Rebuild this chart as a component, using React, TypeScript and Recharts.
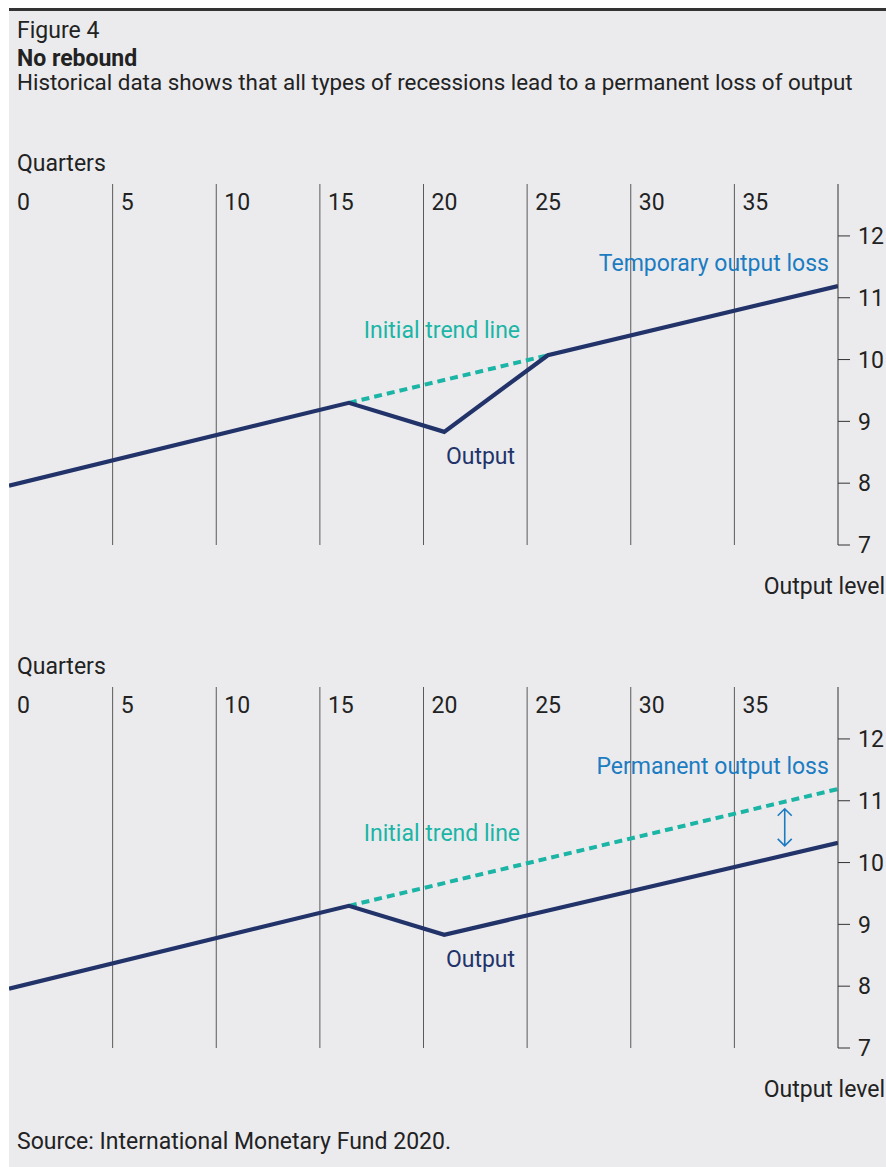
import { LineChart, Line, XAxis, YAxis, ReferenceLine, ReferenceDot } from "recharts";

document.body.style.margin = "0";

// ── Data ─────────────────────────────────────────────────────────────

const QUARTER_TICKS = [0, 5, 10, 15, 20, 25, 30, 35];
const GRID_QUARTERS = [5, 10, 15, 20, 25, 30, 35];
const LEVEL_TICKS = [7, 8, 9, 10, 11, 12];
const LEVEL_DOMAIN = [7, 12.84];

// panel 1: temporary loss
const OUTPUT_TEMP = [
  { q: 0, v: 7.96 },
  { q: 16.4, v: 9.3 },
  { q: 21, v: 8.83 },
  { q: 26, v: 10.07 },
  { q: 40, v: 11.19 },
];
const TREND_TEMP = [
  { q: 16.4, v: 9.3 },
  { q: 26, v: 10.07 },
];

// panel 2: permanent loss
const OUTPUT_PERM = [
  { q: 0, v: 7.96 },
  { q: 16.4, v: 9.3 },
  { q: 21, v: 8.83 },
  { q: 40, v: 10.32 },
];
const TREND_PERM = [
  { q: 16.4, v: 9.3 },
  { q: 40, v: 11.19 },
];
const PERM_GAP = { q: 37.43, from: 10.27, to: 10.87 };

// ── Styles ───────────────────────────────────────────────────────────

const FONT = "Roboto, 'Open Sans', sans-serif";
const FS = 23;
const BG = "#ebebee";
const NAVY = "#22336a";
const TEAL = "#1bb5a6";
const BLUE = "#1b7cc1";
const TEXT = "#222";
const GRID = "#5a5a5a";
const PLOT_TOP = 10;
const PANEL_GAP = 503;

function quarterLabel(value: number) {
  return (p: any) => (
    <text x={p.cx + 8} y={p.cy + 26} fill={TEXT} fontSize={FS} fontFamily={FONT}>
      {value}
    </text>
  );
}

function note(text: string, color: string, anchor: "start" | "end") {
  return (p: any) => (
    <text x={p.cx} y={p.cy} dy="0.36em" fill={color} fontSize={FS} fontFamily={FONT} textAnchor={anchor}>
      {text}
    </text>
  );
}

function GapArrow(p: any) {
  const { x1, y1, y2 } = p;
  const top = Math.min(y1, y2);
  const bot = Math.max(y1, y2);
  const x = x1;
  const d = `M${x},${top} L${x},${bot} M${x - 7},${top + 7} L${x},${top} L${x + 7},${top + 7} M${x - 7},${bot - 7} L${x},${bot} L${x + 7},${bot - 7}`;
  return <path d={d} stroke={BLUE} strokeWidth={1.6} fill="none" />;
}

interface PanelProps {
  top: number;
  output: { q: number; v: number }[];
  trend: { q: number; v: number }[];
  lossLabel: string;
  showGap?: boolean;
}

function Panel({ top, output, trend, lossLabel, showGap }: PanelProps) {
  return (
    <div style={{ position: "absolute", left: 0, top }}>
      <LineChart width={886} height={387} margin={{ top: PLOT_TOP, right: 0, bottom: 16, left: 9 }}>
        <XAxis dataKey="q" type="number" domain={[0, 40]} hide allowDataOverflow />
        <YAxis
          orientation="right"
          type="number"
          domain={LEVEL_DOMAIN}
          ticks={LEVEL_TICKS}
          width={48}
          tickSize={12}
          tickMargin={8}
          axisLine={{ stroke: "#333" }}
          tickLine={{ stroke: "#333" }}
          tick={{ fill: TEXT, fontSize: FS, fontFamily: FONT }}
          allowDataOverflow
        />
        {GRID_QUARTERS.map((q) => (
          <ReferenceLine key={q} x={q} stroke={GRID} strokeWidth={1} />
        ))}
        {QUARTER_TICKS.map((q) => (
          <ReferenceDot key={"t" + q} x={q} y={LEVEL_DOMAIN[1]} r={0} shape={quarterLabel(q)} />
        ))}
        <Line
          data={trend}
          dataKey="v"
          stroke={TEAL}
          strokeWidth={4}
          strokeDasharray="8 5"
          dot={false}
          isAnimationActive={false}
        />
        <Line
          data={output}
          dataKey="v"
          stroke={NAVY}
          strokeWidth={4.2}
          strokeLinejoin="miter"
          dot={false}
          isAnimationActive={false}
        />
        <ReferenceDot x={39.56} y={11.57} r={0} shape={note(lossLabel, BLUE, "end")} />
        <ReferenceDot x={17.12} y={10.49} r={0} shape={note("Initial trend line", TEAL, "start")} />
        <ReferenceDot x={21.08} y={8.44} r={0} shape={note("Output", NAVY, "start")} />
        {showGap && (
          <ReferenceLine
            segment={[
              { x: PERM_GAP.q, y: PERM_GAP.from },
              { x: PERM_GAP.q, y: PERM_GAP.to },
            ]}
            shape={GapArrow}
          />
        )}
      </LineChart>
    </div>
  );
}

const txt = (top: number, extra: any = {}) => ({
  position: "absolute" as const,
  top,
  left: 17,
  fontSize: FS,
  lineHeight: "20px",
  color: TEXT,
  whiteSpace: "nowrap" as const,
  ...extra,
});

export default function App() {
  return (
    <div style={{ position: "relative", width: 886, height: 1167, background: "#fff", fontFamily: FONT, overflow: "hidden" }}>
      <div style={{ position: "absolute", left: 9, top: 8, width: 877, height: 1159, background: BG, borderTop: "3px solid #333" }} />
      <div style={txt(21)}>Figure 4</div>
      <div style={txt(48.5, { fontWeight: 700 })}>No rebound</div>
      <div style={txt(71.5, { fontSize: 22.4 })}>
        Historical data shows that all types of recessions lead to a permanent loss of output
      </div>

      <div style={txt(153.5)}>Quarters</div>
      <Panel top={174} output={OUTPUT_TEMP} trend={TREND_TEMP} lossLabel="Temporary output loss" />
      <div style={txt(577, { left: "auto", right: 1 })}>Output level</div>

      <div style={txt(153.5 + PANEL_GAP)}>Quarters</div>
      <Panel top={174 + PANEL_GAP} output={OUTPUT_PERM} trend={TREND_PERM} lossLabel="Permanent output loss" showGap />
      <div style={txt(577 + PANEL_GAP, { left: "auto", right: 1 })}>Output level</div>

      <div style={txt(1131.5)}>Source: International Monetary Fund 2020.</div>
    </div>
  );
}
